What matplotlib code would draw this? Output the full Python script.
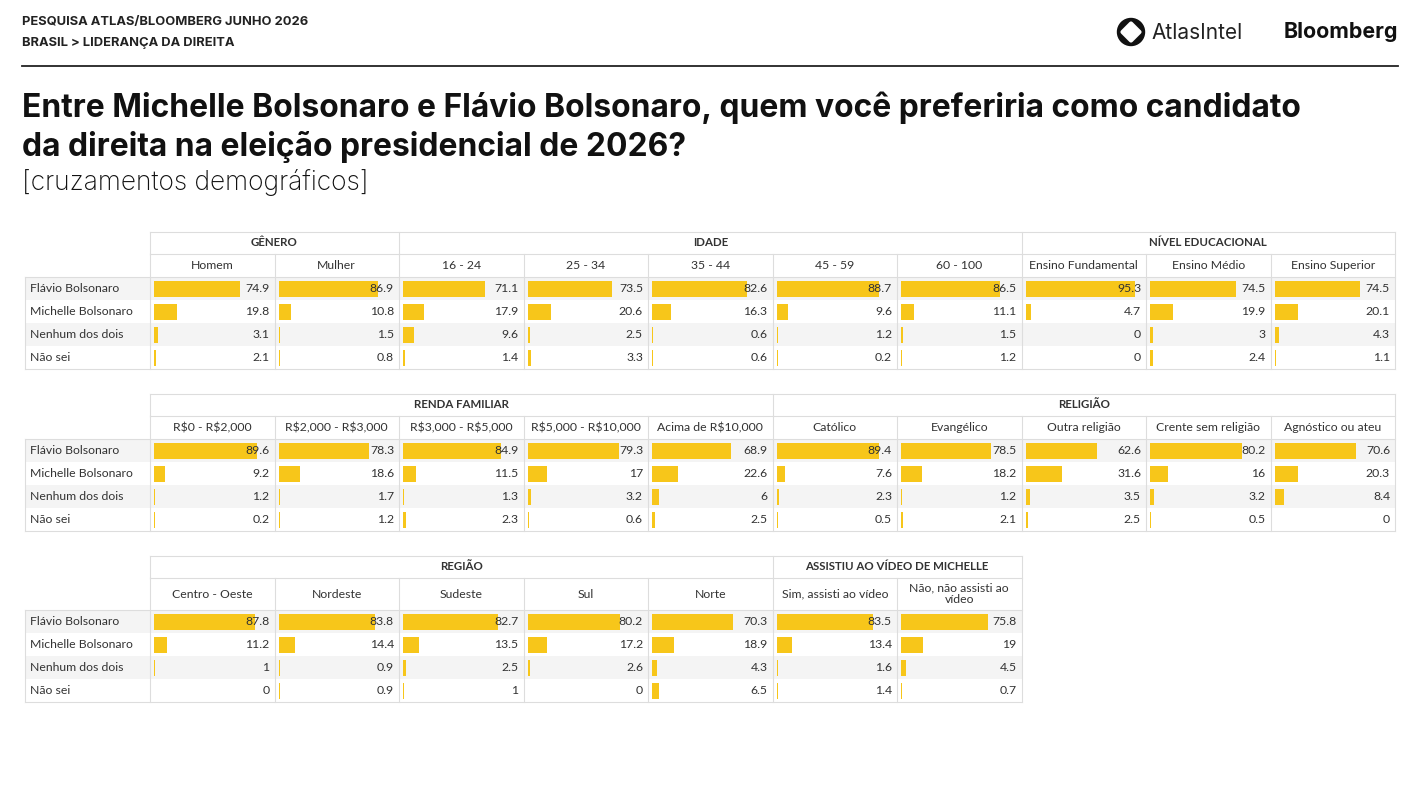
import matplotlib.pyplot as plt
from matplotlib.patches import Rectangle, Circle, RegularPolygon

# response options (rows)
answers = ["Flávio Bolsonaro", "Michelle Bolsonaro", "Nenhum dos dois", "Não sei"]

# table 1
genero_cats = ["Homem", "Mulher"]
genero_vals = [[74.9, 19.8, 3.1, 2.1], [86.9, 10.8, 1.5, 0.8]]
idade_cats = ["16 - 24", "25 - 34", "35 - 44", "45 - 59", "60 - 100"]
idade_vals = [[71.1, 17.9, 9.6, 1.4], [73.5, 20.6, 2.5, 3.3], [82.6, 16.3, 0.6, 0.6],
              [88.7, 9.6, 1.2, 0.2], [86.5, 11.1, 1.5, 1.2]]
edu_cats = ["Ensino Fundamental", "Ensino Médio", "Ensino Superior"]
edu_vals = [[95.3, 4.7, 0, 0], [74.5, 19.9, 3, 2.4], [74.5, 20.1, 4.3, 1.1]]

# table 2
renda_cats = ["R$0 - R$2,000", "R$2,000 - R$3,000", "R$3,000 - R$5,000",
              "R$5,000 - R$10,000", "Acima de R$10,000"]
renda_vals = [[89.6, 9.2, 1.2, 0.2], [78.3, 18.6, 1.7, 1.2], [84.9, 11.5, 1.3, 2.3],
              [79.3, 17, 3.2, 0.6], [68.9, 22.6, 6, 2.5]]
religiao_cats = ["Católico", "Evangélico", "Outra religião", "Crente sem religião",
                 "Agnóstico ou ateu"]
religiao_vals = [[89.4, 7.6, 2.3, 0.5], [78.5, 18.2, 1.2, 2.1], [62.6, 31.6, 3.5, 2.5],
                 [80.2, 16, 3.2, 0.5], [70.6, 20.3, 8.4, 0]]

# table 3
regiao_cats = ["Centro - Oeste", "Nordeste", "Sudeste", "Sul", "Norte"]
regiao_vals = [[87.8, 11.2, 1, 0], [83.8, 14.4, 0.9, 0.9], [82.7, 13.5, 2.5, 1],
               [80.2, 17.2, 2.6, 0], [70.3, 18.9, 4.3, 6.5]]
video_cats = ["Sim, assisti ao vídeo", "Não, não assisti ao\nvídeo"]
video_vals = [[83.5, 13.4, 1.6, 1.4], [75.8, 19, 4.5, 0.7]]

tables = [
    (232, 23, [("GÊNERO", genero_cats, genero_vals),
               ("IDADE", idade_cats, idade_vals),
               ("NÍVEL EDUCACIONAL", edu_cats, edu_vals)]),
    (394, 23, [("RENDA FAMILIAR", renda_cats, renda_vals),
               ("RELIGIÃO", religiao_cats, religiao_vals)]),
    (556, 32, [("REGIÃO", regiao_cats, regiao_vals),
               ("ASSISTIU AO VÍDEO DE MICHELLE", video_cats, video_vals)]),
]

BAR = "#F7C61A"
GRID = "#dddddd"
STRIPE = "#f4f4f4"
TXT = "#333333"
TFONT = "Lato"
FS = 8.8

W, H = 1422, 800
fig = plt.figure(figsize=(W / 100, H / 100), dpi=100)
ax = fig.add_axes([0, 0, 1, 1])
ax.set_xlim(0, W)
ax.set_ylim(H, 0)
ax.axis("off")

# header
head = dict(family="Inter", fontweight="bold", fontsize=9.3, color="#222222", va="center")
ax.text(22, 22, "PESQUISA ATLAS/BLOOMBERG JUNHO 2026", **head)
ax.text(22, 43, "BRASIL > LIDERANÇA DA DIREITA", **head)
ax.plot([22, 1398], [66, 66], color="#222222", lw=1.3)

# logos
ax.add_patch(Circle((1131, 32), 13.5, color="#111111"))
ax.add_patch(RegularPolygon((1131, 32), 4, radius=8.5, orientation=0, color="white",
                            lw=3, joinstyle="round", ec="white"))
ax.text(1151, 33, "AtlasIntel", family="Inter", fontsize=15, color="#222222", va="center")
ax.text(1398, 32, "Bloomberg", family="Inter", fontweight="bold", fontsize=15.4,
        color="#111111", va="center", ha="right")

ax.text(22, 108, "Entre Michelle Bolsonaro e Flávio Bolsonaro, quem você preferiria como candidato",
        family="Inter", fontweight="bold", fontsize=22.9, color="#111111", va="center")
ax.text(22, 147, "da direita na eleição presidencial de 2026?",
        family="Inter", fontweight="bold", fontsize=22.9, color="#111111", va="center")
ax.text(22, 182, "[cruzamentos demográficos]", family="Inter", fontweight="light",
        fontsize=19, color="#111111", va="center")

x0, cw, lx0 = 150, 124.5, 25
gh, rh, scale = 22, 23, 1.15

for top, sh, groups in tables:
    ncols = sum(len(g[1]) for g in groups)
    xr = x0 + ncols * cw
    ytop_rows = top + gh + sh
    ybot = ytop_rows + rh * len(answers)

    # stripes
    for i in range(0, len(answers), 2):
        ax.add_patch(Rectangle((lx0, ytop_rows + i * rh), xr - lx0, rh, color=STRIPE, lw=0))

    # row labels
    for i, a in enumerate(answers):
        ax.text(lx0 + 5, ytop_rows + (i + 0.5) * rh, a, family=TFONT, fontsize=FS,
                color=TXT, va="center")

    col = 0
    for gname, cats, vals in groups:
        gx = x0 + col * cw
        ax.text(gx + len(cats) * cw / 2, top + gh / 2, gname, family=TFONT, fontsize=8.3,
                fontweight="bold", color=TXT, va="center", ha="center")
        ax.plot([gx, gx], [top, top + gh], color=GRID, lw=0.8)
        for j, cat in enumerate(cats):
            cx = x0 + (col + j) * cw
            ax.text(cx + cw / 2, top + gh + sh / 2, cat, family=TFONT, fontsize=FS,
                    color=TXT, va="center", ha="center", linespacing=1.1, parse_math=False)
            ax.plot([cx, cx], [top + gh, ybot], color=GRID, lw=0.8)
            v = vals[j]
            ys = [ytop_rows + (i + 0.5) * rh for i in range(len(v))]
            widths = [max(x * scale, 1.2) if x > 0 else 0 for x in v]
            ax.barh(ys, widths, left=cx + 4, height=16, color=BAR, lw=0)
            for y, x in zip(ys, v):
                ax.text(cx + cw - 5, y, f"{x:g}", family=TFONT, fontsize=FS,
                        color=TXT, va="center", ha="right")
        col += len(cats)

    # outer lines
    ax.plot([xr, xr], [top, ybot], color=GRID, lw=0.8)
    ax.plot([lx0, lx0], [ytop_rows, ybot], color=GRID, lw=0.8)
    ax.plot([x0, xr], [top, top], color=GRID, lw=0.8)
    ax.plot([x0, xr], [top + gh, top + gh], color=GRID, lw=0.8)
    ax.plot([lx0, xr], [ytop_rows, ytop_rows], color=GRID, lw=0.8)
    ax.plot([lx0, xr], [ybot, ybot], color=GRID, lw=0.8)

fig.savefig("out.png", dpi=100, facecolor="white")
